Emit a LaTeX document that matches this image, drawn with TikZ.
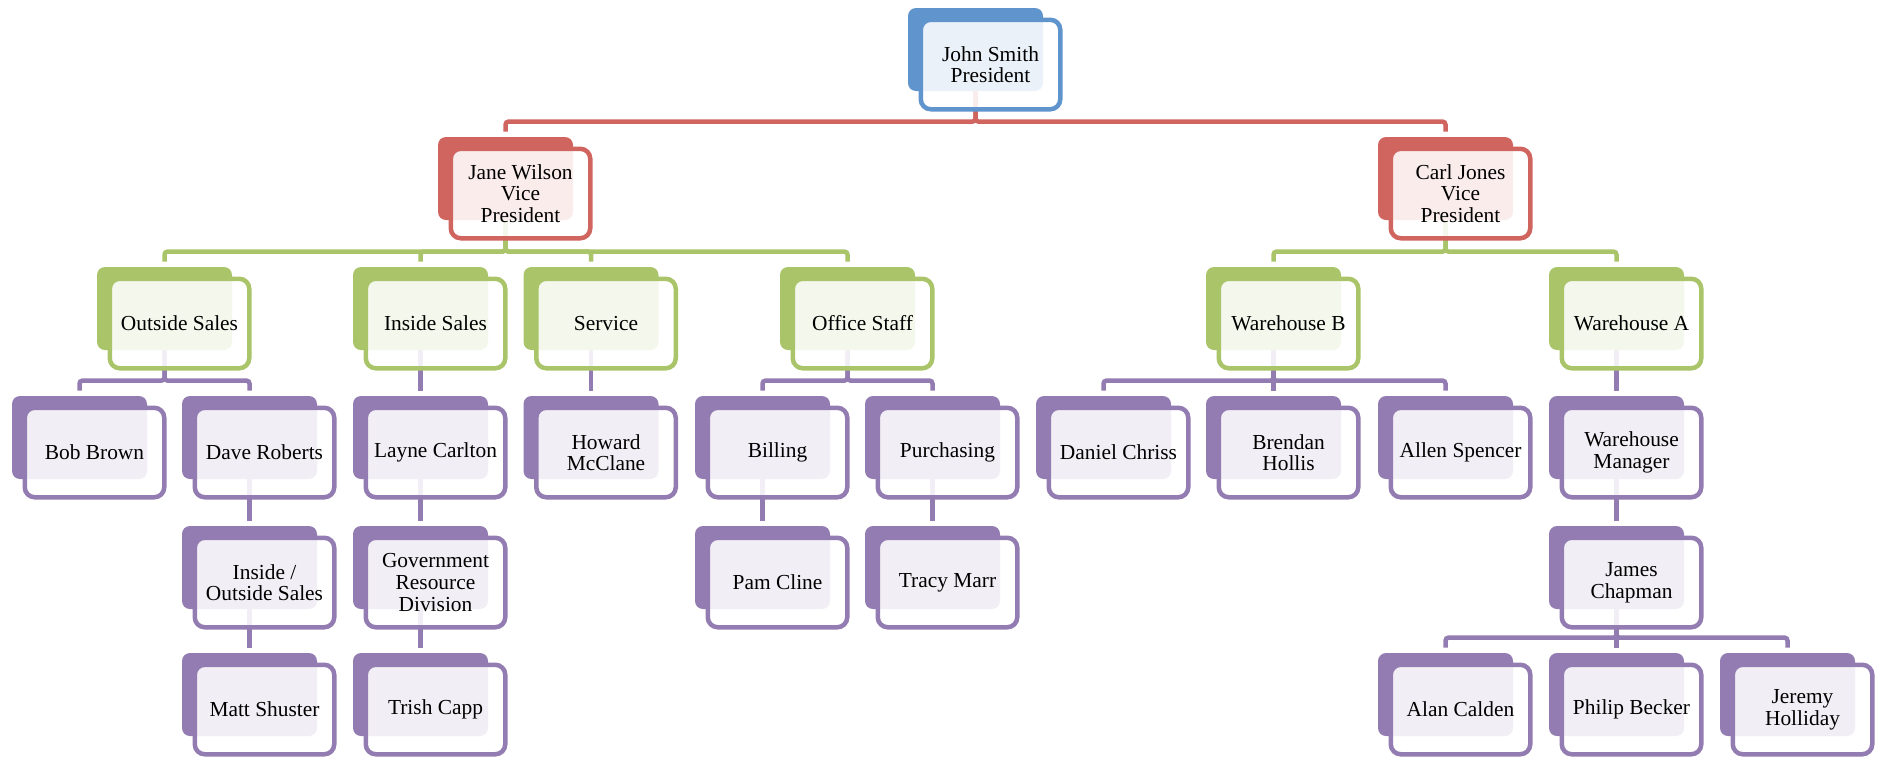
\documentclass[tikz,border=0pt]{standalone}
\usepackage{fontspec}
\setmainfont{Liberation Serif}
\usetikzlibrary{backgrounds}

\definecolor{bluec}{RGB}{96,148,204}
\definecolor{redc}{RGB}{208,101,95}
\definecolor{greenc}{RGB}{170,196,106}
\definecolor{purplec}{RGB}{147,124,177}

% one chart entry: name, left x, top y (px), colour, text
\newcommand{\orgbox}[5]{%
  \node[backbox, fill=#4] (#1) at (#2+67.5, #3+41.5) {};
  \node[frontbox, draw=#4] (#1-t) at (#2+82.5, #3+56.5) {#5};
}
% elbow from parent to child
\newcommand{\orglink}[3]{%
  \draw[link, #3] (#1.south) |- ([yshift=7.5pt]#2.north) -- ([yshift=2.5pt]#2.north);
}

\begin{document}
\begin{tikzpicture}[x=0.5pt, y=-0.5pt]
\tikzset{
  backbox/.style={rectangle, draw=none, rounded corners=4pt, inner sep=0pt,
    minimum width=67.5pt, minimum height=41.5pt},
  frontbox/.style={rectangle, rounded corners=5pt, line width=2.25pt, inner sep=0pt,
    minimum width=69.75pt, minimum height=44.75pt, fill=white, fill opacity=0.88,
    text opacity=1, align=center, font=\fontsize{10.7}{10.8}\selectfont},
  link/.style={line width=2.25pt, rounded corners=1.5pt}
}
\useasboundingbox (0,0) rectangle (1879,756);

% level 0 and 1
\orgbox{john}{908}{8}{bluec}{John Smith\\President}
\orgbox{jane}{438}{137}{redc}{Jane Wilson\\Vice\\President}
\orgbox{carl}{1378}{137}{redc}{Carl Jones\\Vice\\President}

% level 2
\orgbox{outsales}{97}{267}{greenc}{Outside Sales}
\orgbox{insales}{353}{267}{greenc}{Inside Sales}
\orgbox{service}{523.5}{267}{greenc}{Service}
\orgbox{office}{780}{267}{greenc}{Office Staff}
\orgbox{whb}{1206}{267}{greenc}{Warehouse B}
\orgbox{wha}{1549}{267}{greenc}{Warehouse A}

% level 3
\orgbox{bob}{12}{396}{purplec}{Bob Brown}
\orgbox{dave}{182}{396}{purplec}{Dave Roberts}
\orgbox{layne}{353}{396}{purplec}{Layne Carlton}
\orgbox{howard}{523.5}{396}{purplec}{Howard\\McClane}
\orgbox{billing}{695}{396}{purplec}{Billing}
\orgbox{purch}{865}{396}{purplec}{Purchasing}
\orgbox{daniel}{1036}{396}{purplec}{Daniel Chriss}
\orgbox{brendan}{1206}{396}{purplec}{Brendan\\Hollis}
\orgbox{allen}{1378}{396}{purplec}{Allen Spencer}
\orgbox{whmgr}{1549}{396}{purplec}{Warehouse\\Manager}

% level 4
\orgbox{inout}{182}{526}{purplec}{Inside /\\Outside Sales}
\orgbox{govt}{353}{526}{purplec}{Government\\Resource\\Division}
\orgbox{pam}{695}{526}{purplec}{Pam Cline}
\orgbox{tracy}{865}{526}{purplec}{Tracy Marr}
\orgbox{james}{1549}{526}{purplec}{James\\Chapman}

% level 5
\orgbox{matt}{182}{653}{purplec}{Matt Shuster}
\orgbox{trish}{353}{653}{purplec}{Trish Capp}
\orgbox{alan}{1378}{653}{purplec}{Alan Calden}
\orgbox{philip}{1549}{653}{purplec}{Philip Becker}
\orgbox{jeremy}{1720}{653}{purplec}{Jeremy\\Holliday}

\begin{pgfonlayer}{background}
\orglink{john}{jane}{redc}
\orglink{john}{carl}{redc}
\foreach \c in {outsales,insales,service,office}
  {\orglink{jane}{\c}{greenc}}
\orglink{carl}{whb}{greenc}
\orglink{carl}{wha}{greenc}
\orglink{outsales}{bob}{purplec}
\orglink{outsales}{dave}{purplec}
\orglink{insales}{layne}{purplec}
\orglink{service}{howard}{purplec}
\orglink{office}{billing}{purplec}
\orglink{office}{purch}{purplec}
\foreach \c in {daniel,brendan,allen}
  {\orglink{whb}{\c}{purplec}}
\orglink{wha}{whmgr}{purplec}
\orglink{dave}{inout}{purplec}
\orglink{layne}{govt}{purplec}
\orglink{billing}{pam}{purplec}
\orglink{purch}{tracy}{purplec}
\orglink{whmgr}{james}{purplec}
\orglink{inout}{matt}{purplec}
\orglink{govt}{trish}{purplec}
\foreach \c in {alan,philip,jeremy}
  {\orglink{james}{\c}{purplec}}
\end{pgfonlayer}
\end{tikzpicture}
\end{document}
